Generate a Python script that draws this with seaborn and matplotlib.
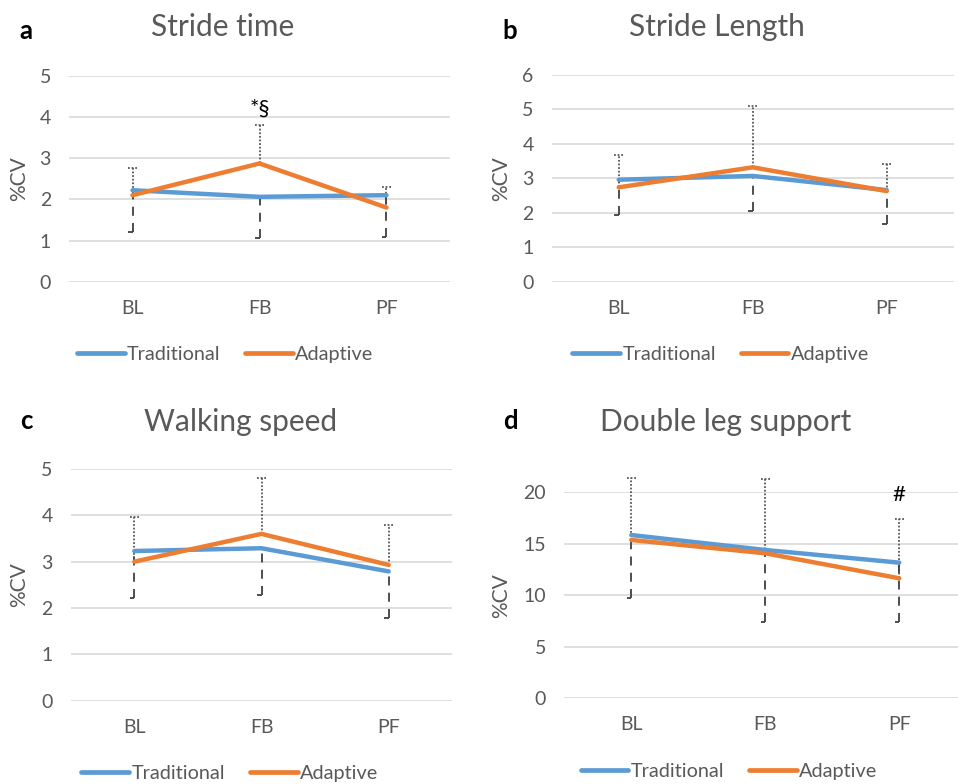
# %%
# import libraries

import numpy as np
import pandas as pd
import matplotlib
matplotlib.use('Agg')
import matplotlib.pyplot as plt
from matplotlib.lines import Line2D
import seaborn as sns

# %%
# values (%CV per phase)

PHASES = ['BL', 'FB', 'PF']
GROUPS = ['Traditional', 'Adaptive']

stride_time_trad = [2.22, 2.06, 2.10]
stride_time_adapt = [2.10, 2.87, 1.80]
stride_time_sd_up = [0.65, 0.93, 0.51]     # dotted bar above Adaptive
stride_time_sd_down = [1.01, 0.99, 1.01]   # dashed bar below Traditional

stride_length_trad = [2.96, 3.07, 2.66]
stride_length_adapt = [2.74, 3.32, 2.63]
stride_length_sd_up = [0.94, 1.77, 0.79]
stride_length_sd_down = [1.02, 1.02, 0.99]

walking_speed_trad = [3.23, 3.29, 2.79]
walking_speed_adapt = [3.00, 3.60, 2.93]
walking_speed_sd_up = [0.97, 1.20, 0.86]
walking_speed_sd_down = [1.01, 1.01, 1.01]

double_support_trad = [15.85, 14.40, 13.17]
double_support_adapt = [15.37, 14.08, 11.65]
double_support_sd_up = [5.99, 7.21, 5.76]
double_support_sd_down = [6.08, 6.96, 5.73]

TITLES = ['Stride time', 'Stride Length', 'Walking speed', 'Double leg support']
LETTERS = ['a', 'b', 'c', 'd']
YMAX = [5, 6, 5, 20]
YSTEP = [1, 1, 1, 5]

# %%
# style

sns.set_style('white')
plt.rcParams['font.family'] = ['Lato', 'DejaVu Sans']
BLUE = '#5B9BD5'
ORANGE = '#ED7D31'
GRAY = '#595959'
GRID = '#D9D9D9'

W, H = 958, 784
fig = plt.figure(figsize=(W / 100, H / 100), dpi=100)

# axes boxes in pixels: left, top, right, bottom
boxes = [(69, 75.7, 450, 281.7),
         (551.7, 75, 953.7, 281.7),
         (70.7, 469, 452.3, 700.7),
         (564.3, 492.3, 966.3, 698.3)]
title_pos = [(223, 27), (717, 27), (241, 422), (726, 422)]
letter_pos = [(26, 31), (510, 31), (26, 421), (510, 421)]
ylabel_right = [29, 511, 29, 511]
legend_pos = [(0.41, -0.351), (0.42, -0.351), (0.417, -0.313), (0.41, -0.356)]

panels = [
    (stride_time_trad, stride_time_adapt, stride_time_sd_up, stride_time_sd_down),
    (stride_length_trad, stride_length_adapt, stride_length_sd_up, stride_length_sd_down),
    (walking_speed_trad, walking_speed_adapt, walking_speed_sd_up, walking_speed_sd_down),
    (double_support_trad, double_support_adapt, double_support_sd_up, double_support_sd_down),
]

for i, (trad, adapt, sd_up, sd_down) in enumerate(panels):
    l, t, r, b = boxes[i]
    ax = fig.add_axes([l / W, 1 - b / H, (r - l) / W, (b - t) / H])
    df = pd.DataFrame({
        'phase': PHASES * 2,
        'cv': list(trad) + list(adapt),
        'group': [GROUPS[0]] * 3 + [GROUPS[1]] * 3,
    })
    xs = np.arange(len(PHASES))
    upper = np.array(adapt) + np.array(sd_up)
    lower = np.array(trad) - np.array(sd_down)

    # error bars: dotted up from Adaptive, dashed down from Traditional
    ax.vlines(xs, adapt, upper, colors=GRAY, linestyles=(0, (1, 1)), lw=1.3, zorder=1, clip_on=False)
    ax.hlines(upper, xs - 0.035, xs + 0.035, colors=GRAY, linestyles=(0, (1, 1)), lw=1.3, zorder=1, clip_on=False)
    ax.vlines(xs, lower, trad, colors='#404040', linestyles=(0, (5, 4)), lw=1.3, zorder=1)
    ax.hlines(lower, xs - 0.035, xs, colors='#404040', lw=1.3, zorder=1)

    sns.lineplot(data=df, x='phase', y='cv', hue='group', hue_order=GROUPS,
                 palette=[BLUE, ORANGE], linewidth=3.2, legend=False, ax=ax,
                 zorder=3, solid_capstyle='round')

    ax.set_xlim(-0.5, 2.5)
    ax.set_ylim(0, YMAX[i])
    ax.set_yticks(np.arange(0, YMAX[i] + 0.1, YSTEP[i]))
    ax.grid(axis='y', color=GRID, lw=1.2)
    ax.grid(axis='x', visible=False)
    ax.set_axisbelow(True)
    sns.despine(ax=ax, left=True, bottom=True)
    ax.tick_params(axis='both', length=0, labelsize=14, labelcolor=GRAY)
    ax.tick_params(axis='x', pad=13)
    ax.tick_params(axis='y', pad=13)
    ax.set_xlabel('')
    ax.set_ylabel('%CV', fontsize=15, color=GRAY)
    ax.yaxis.set_label_coords(-(l - ylabel_right[i]) / (r - l), 0.5)

    handles = [Line2D([], [], color=BLUE, lw=3.4, solid_capstyle='round'),
               Line2D([], [], color=ORANGE, lw=3.4, solid_capstyle='round')]
    leg = ax.legend(handles, GROUPS, loc='center', bbox_to_anchor=legend_pos[i],
                    ncol=2, frameon=False, fontsize=14.3, handlelength=2.4,
                    handletextpad=0.12, columnspacing=1.25)
    for txt in leg.get_texts():
        txt.set_color(GRAY)

    fig.text(title_pos[i][0] / W, 1 - title_pos[i][1] / H, TITLES[i],
             ha='center', va='center', fontsize=21.5, color=GRAY)
    fig.text(letter_pos[i][0] / W, 1 - letter_pos[i][1] / H, LETTERS[i],
             ha='center', va='center', fontsize=18.5, fontweight='bold', color='black')

    if i == 0:
        ax.text(1, 4.2, '*§', ha='center', va='center', fontsize=16, color='black')
    if i == 3:
        ax.text(2, 19.7, '#', ha='center', va='center', fontsize=16, color='black')

fig.savefig('out.png', dpi=100)
